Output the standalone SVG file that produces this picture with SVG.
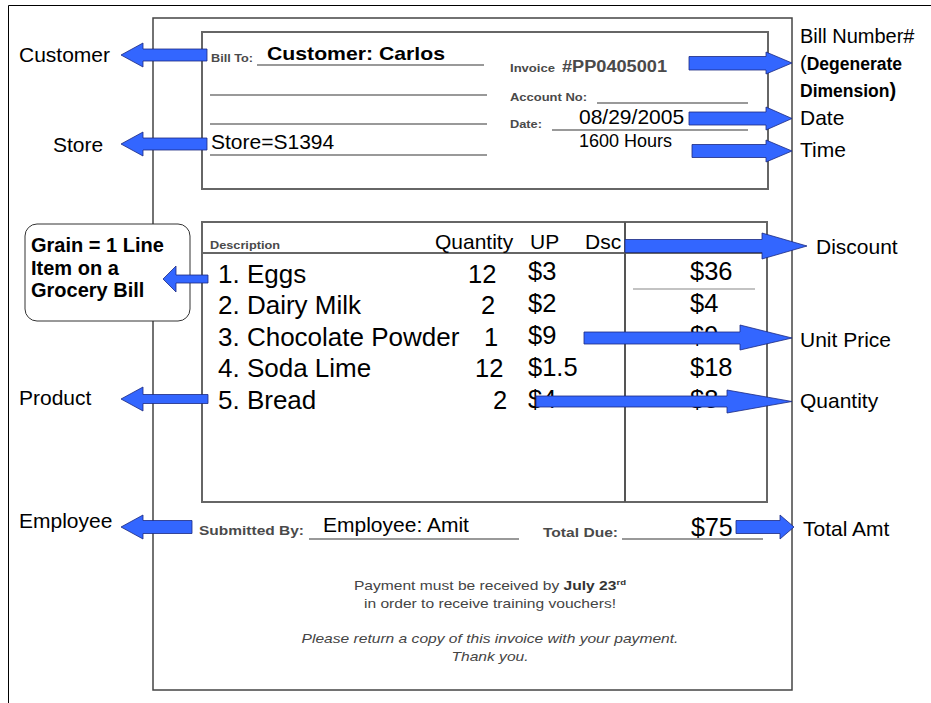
<svg xmlns="http://www.w3.org/2000/svg" width="931" height="703" viewBox="0 0 931 703">
<style>
text{font-family:"Liberation Sans",Arial,sans-serif;fill:#000}
.lbl{font-size:21px}
.form{font-weight:bold;fill:#4a4a4a}
.item{font-size:26px}
.num{font-size:25.5px}
.hdr{font-size:21px}
.uline{stroke:#777;stroke-width:1.5;fill:none}
.box{fill:none;stroke:#666;stroke-width:2}
.arrow{fill:#3366FF;stroke:#1c2a80;stroke-width:0.8}
.note{font-size:13px;fill:#444}
</style>
<rect x="0" y="0" width="931" height="703" fill="#fff"/>
<path d="M8.5 703 V5.5 H931" fill="none" stroke="#000" stroke-width="1"/>

<g id="invoice">
  <rect x="153" y="18" width="639" height="672" fill="#fff" stroke="#444" stroke-width="1.5"/>
  <g id="header-box">
    <rect class="box" x="202" y="32" width="566" height="157"/>
    <text class="form" x="211" y="62" font-size="10.5" textLength="42" lengthAdjust="spacingAndGlyphs">Bill To:</text>
    <line class="uline" x1="257" y1="65" x2="484" y2="65"/>
    <line class="uline" x1="210" y1="95" x2="487" y2="95"/>
    <line class="uline" x1="210" y1="124" x2="487" y2="124"/>
    <line class="uline" x1="210" y1="155" x2="487" y2="155"/>
    <text x="267" y="60" font-size="18.5" font-weight="bold" textLength="178" lengthAdjust="spacingAndGlyphs">Customer: Carlos</text>
    <text x="211" y="149" font-size="21">Store=S1394</text>
    <text class="form" x="510" y="72" font-size="11" textLength="45" lengthAdjust="spacingAndGlyphs">Invoice</text>
    <text class="form" x="562" y="72" font-size="16" textLength="105" lengthAdjust="spacingAndGlyphs">#PP0405001</text>
    <text class="form" x="510" y="101" font-size="11" textLength="77" lengthAdjust="spacingAndGlyphs">Account No:</text>
    <line class="uline" x1="597" y1="103" x2="748" y2="103"/>
    <text class="form" x="510" y="128" font-size="11" textLength="32" lengthAdjust="spacingAndGlyphs">Date:</text>
    <line class="uline" x1="552" y1="130" x2="748" y2="130"/>
    <text x="579" y="124" font-size="21">08/29/2005</text>
    <text x="579" y="147" font-size="18">1600 Hours</text>
  </g>
  <g id="items-box">
    <rect class="box" x="202" y="222" width="565" height="280"/>
    <line x1="202" y1="253" x2="767" y2="253" stroke="#666" stroke-width="2"/>
    <line x1="625" y1="222" x2="625" y2="502" stroke="#555" stroke-width="2"/>
    <text class="form" x="210" y="249" font-size="10.5" textLength="70" lengthAdjust="spacingAndGlyphs">Description</text>
    <text class="hdr" x="435" y="249">Quantity</text>
    <text class="hdr" x="530" y="249">UP</text>
    <text class="hdr" x="585" y="249">Dsc</text>
    <text class="item" x="218" y="283">1. Eggs</text>
    <text class="item" x="218" y="314">2. Dairy Milk</text>
    <text class="item" x="218" y="346">3. Chocolate Powder</text>
    <text class="item" x="218" y="377">4. Soda Lime</text>
    <text class="item" x="218" y="409">5. Bread</text>
    <text class="num" x="468" y="283">12</text>
    <text class="num" x="481" y="314">2</text>
    <text class="num" x="484" y="346">1</text>
    <text class="num" x="475" y="377">12</text>
    <text class="num" x="493" y="409">2</text>
    <text class="num" x="528" y="280">$3</text>
    <text class="num" x="528" y="312">$2</text>
    <text class="num" x="528" y="344">$9</text>
    <text class="num" x="528" y="376">$1.5</text>
    <text class="num" x="528" y="408">$4</text>
    <text class="num" x="690" y="280">$36</text>
    <line x1="633" y1="289" x2="755" y2="289" stroke="#888" stroke-width="1.2"/>
    <text class="num" x="690" y="312">$4</text>
    <text class="num" x="690" y="344">$9</text>
    <text class="num" x="690" y="376">$18</text>
    <text class="num" x="690" y="408">$8</text>
  </g>
  <g id="footer">
    <text class="form" x="199" y="535" font-size="13" textLength="105" lengthAdjust="spacingAndGlyphs">Submitted By:</text>
    <line class="uline" x1="309" y1="539" x2="519" y2="539"/>
    <text x="323" y="532" font-size="21">Employee: Amit</text>
    <text class="form" x="543" y="537" font-size="13" textLength="75" lengthAdjust="spacingAndGlyphs">Total Due:</text>
    <line class="uline" x1="622" y1="539" x2="763" y2="539"/>
    <text x="691" y="536" font-size="25">$75</text>
    <g transform="translate(490,0) scale(1.2,1) translate(-490,0)">
      <text class="note" x="490" y="590" text-anchor="middle">Payment must be received by <tspan font-weight="bold" fill="#333">July 23<tspan font-size="8" dy="-5">rd</tspan></tspan></text>
      <text class="note" x="490" y="608" text-anchor="middle">in order to receive training vouchers!</text>
      <text class="note" x="490" y="643" text-anchor="middle" font-style="italic">Please return a copy of this invoice with your payment.</text>
      <text class="note" x="490" y="661" text-anchor="middle" font-style="italic">Thank you.</text>
    </g>
  </g>
</g>

<g id="label-customer"><text class="lbl" x="19" y="62">Customer</text></g>
<g id="label-store"><text class="lbl" x="53" y="152">Store</text></g>
<g id="label-grain">
  <rect x="25" y="224" width="165" height="97" rx="12" fill="#fff" stroke="#333" stroke-width="1"/>
  <text x="31" y="252" font-size="20" font-weight="bold">Grain = 1 Line</text>
  <text x="31" y="275" font-size="20" font-weight="bold">Item on a</text>
  <text x="31" y="297" font-size="20" font-weight="bold">Grocery Bill</text>
</g>
<g id="label-product"><text class="lbl" x="19" y="405">Product</text></g>
<g id="label-employee"><text class="lbl" x="19" y="528">Employee</text></g>
<g id="label-billnumber">
  <text x="800" y="43" font-size="20">Bill Number#</text>
  <text x="800" y="70" font-size="20">(<tspan font-size="17.5" font-weight="bold">Degenerate</tspan></text>
  <text x="800" y="97" font-size="17.5" font-weight="bold">Dimension<tspan font-size="20">)</tspan></text>
</g>
<g id="label-date"><text class="lbl" x="800" y="125">Date</text></g>
<g id="label-time"><text class="lbl" x="800" y="157">Time</text></g>
<g id="label-discount"><text class="lbl" x="816" y="254">Discount</text></g>
<g id="label-unitprice"><text class="lbl" x="800" y="347">Unit Price</text></g>
<g id="label-quantity"><text class="lbl" x="800" y="408">Quantity</text></g>
<g id="label-totalamt"><text class="lbl" x="803" y="536">Total Amt</text></g>

<g id="connectors">
  <polygon class="arrow" points="121,55 143,43 143,49 207,49 207,61 143,61 143,67"/>
  <polygon class="arrow" points="121,144 143,132 143,138 207,138 207,150 143,150 143,156"/>
  <polygon class="arrow" points="163,279 176,266 176,275 208,275 208,283 176,283 176,292"/>
  <polygon class="arrow" points="121,399 143,387 143,394.5 208,394.5 208,403.5 143,403.5 143,411"/>
  <polygon class="arrow" points="121,527 143,515 143,520.5 192,520.5 192,533.5 143,533.5 143,539"/>
  <polygon class="arrow" points="792,63 766,52 766,56.5 689,56.5 689,70 766,70 766,74"/>
  <polygon class="arrow" points="792,118.5 766,107 766,112 689,112 689,125 766,125 766,130"/>
  <polygon class="arrow" points="792,151 766,140 766,144.5 692,144.5 692,157.5 766,157.5 766,162"/>
  <polygon class="arrow" points="807,246 762,233 762,239.5 625,239.5 625,252.5 762,252.5 762,259"/>
  <polygon class="arrow" points="792,338 740,325 740,332 584,332 584,344 740,344 740,350"/>
  <polygon class="arrow" points="792,401.5 727,390 727,396 536,396 536,407 727,407 727,413"/>
  <polygon class="arrow" points="794,527 780,515 780,520.5 736,520.5 736,533.5 780,533.5 780,539"/>
</g>
</svg>
